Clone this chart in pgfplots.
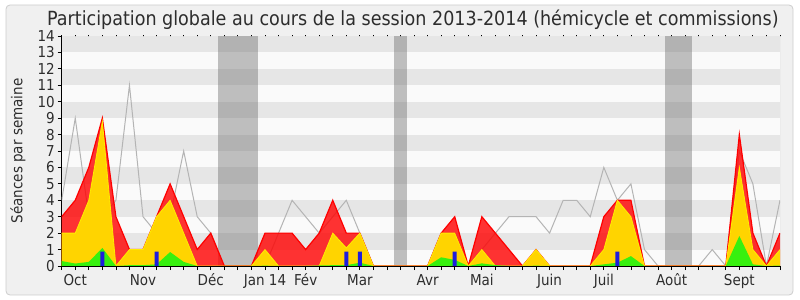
\documentclass[border=0pt]{standalone}
\usepackage{fontspec}
\setmainfont{DejaVu Sans Condensed}
\usepackage{pgfplots}
\pgfplotsset{compat=1.18}
\usepackage{pgfplotstable}

\definecolor{bgc}{RGB}{240,240,240}
\definecolor{framec}{RGB}{205,205,205}
\definecolor{stripeD}{RGB}{230,230,230}
\definecolor{stripeL}{RGB}{250,250,250}
\definecolor{holi}{RGB}{89,89,89}
\definecolor{yelA}{RGB}{255,212,0}
\definecolor{yelL}{RGB}{255,236,0}
\definecolor{greA}{RGB}{55,240,15}
\definecolor{bluA}{RGB}{30,30,220}
\definecolor{grayL}{RGB}{180,180,180}
\definecolor{txt}{RGB}{45,45,45}

\pgfplotstableread{
i red yel gre med
0 3 2 0.3 4
1 4 2 0.15 9
2 6 4 0.25 3
3 9 8.8 1.1 3
4 3 0 0 4
5 1 1 0.05 11
6 1 1 0.05 3
7 3 3 0.1 2
8 5 4 0.85 3
9 3 2 0.25 7
10 1 0 0 3
11 2 0 0 2
12 0 0 0 0
13 0 0 0 0
14 0 0 0 0
15 2 1 0.02 0
16 2 0 0 2
17 2 0 0 4
18 1 0 0 3
19 2 0 0.03 2
20 4 2 0.05 3
21 2 1.1 0.05 4
22 2 2 0.2 2
23 0 0 0 0
24 0 0 0 0
25 0 0 0 0
26 0 0 0 0
27 0 0 0 0
28 2 2 0.53 2
29 3 2 0.37 2
30 0 0 0 0
31 3 1 0.16 1
32 2 0 0.05 2
33 1 0 0 3
34 0 0 0 3
35 1 1 0.02 3
36 0 0 0 2
37 0 0 0 4
38 0 0 0 4
39 0 0 0 3
40 3 1 0.1 6
41 4 4 0.2 4
42 4 3 0.6 5
43 0 0 0 1
44 0 0 0 0
45 0 0 0 0
46 0 0 0 0
47 0 0 0 0
48 0 0 0 1
49 0 0 0 0
50 8 6 1.83 7
51 2 1 0.1 5
52 0 0 0 0
53 2 1 0.03 4
}\data

\pgfplotstableread{
i val
3 0.87
7 0.87
21 0.87
22 0.87
29 0.87
41 0.87
}\blue

\begin{document}
\begin{tikzpicture}
\useasboundingbox (0,0) rectangle (800bp,300bp);
\fill[white] (0,0) rectangle (800bp,300bp);
\draw[framec, fill=bgc, rounded corners=4bp, line width=0.8bp] (6bp,5bp) rectangle (793bp,295bp);
\begin{axis}[
  at={(61.7bp,34bp)}, anchor=south west,
  scale only axis, width=718.3bp, height=230bp,
  xmin=0, xmax=53, ymin=0, ymax=14,
  axis x line*=bottom, axis y line*=left,
  axis line style={black, line width=0.8bp, -},
  axis background/.style={fill=stripeL},
  ytick={0,...,14},
  xtick={0,...,53}, xticklabels={},
  extra x ticks={1,6,11,15,18,22,27,31,36,40,45,50},
  extra x tick labels={Oct,Nov,Déc,Jan 14,Fév,Mar,Avr,Mai,Juin,Juil,Août,Sept},
  extra x tick style={tick style={draw=none}},
  tick align=outside, major tick length=4bp,
  tick style={black, line width=0.8bp},
  /pgf/number format/assume math mode=true,
  tick label style={font=\fontsize{15bp}{18bp}\selectfont, text=txt},
  yticklabel style={anchor=east, inner sep=0pt, xshift=-2.7bp},
  xticklabel style={anchor=base, inner sep=0pt, yshift=-15bp},
  title={Participation globale au cours de la session 2013-2014 (hémicycle et commissions)},
  title style={at={(axis description cs:0.489,1.0187)}, anchor=base, yshift=0pt, inner sep=0pt, text=txt, font=\fontsize{19.5bp}{23bp}\selectfont},
  ylabel={Séances par semaine},
  ylabel style={at={(axis description cs:-0.061,0.5)}, anchor=center, rotate=0, inner sep=0pt, text=txt, font=\fontsize{15bp}{18bp}\selectfont},
]
% stripes
\addplot[fill=stripeD, draw=none] coordinates {(0,1) (53,1) (53,2) (0,2)} -- cycle;
\addplot[fill=stripeD, draw=none] coordinates {(0,3) (53,3) (53,4) (0,4)} -- cycle;
\addplot[fill=stripeD, draw=none] coordinates {(0,5) (53,5) (53,6) (0,6)} -- cycle;
\addplot[fill=stripeD, draw=none] coordinates {(0,7) (53,7) (53,8) (0,8)} -- cycle;
\addplot[fill=stripeD, draw=none] coordinates {(0,9) (53,9) (53,10) (0,10)} -- cycle;
\addplot[fill=stripeD, draw=none] coordinates {(0,11) (53,11) (53,12) (0,12)} -- cycle;
\addplot[fill=stripeD, draw=none] coordinates {(0,13) (53,13) (53,14) (0,14)} -- cycle;
% holidays
\addplot[fill=holi, fill opacity=0.37, draw=none] coordinates {(11.5,0) (11.5,14) (14.5,14) (14.5,0)} -- cycle;
\addplot[fill=holi, fill opacity=0.37, draw=none] coordinates {(24.5,0) (24.5,14) (25.5,14) (25.5,0)} -- cycle;
\addplot[fill=holi, fill opacity=0.37, draw=none] coordinates {(44.5,0) (44.5,14) (46.5,14) (46.5,0)} -- cycle;
% median line
\addplot[grayL, line width=1bp] table[x=i, y=med] {\data};
% total
\addplot[draw=none, fill=red, fill opacity=0.8] table[x=i, y=red] {\data} \closedcycle;
\addplot[red, line width=1.2bp] table[x=i, y=red] {\data};
% commission
\addplot[draw=none, fill=yelA] table[x=i, y=yel] {\data} \closedcycle;
\addplot[yelL, line width=0.8bp] table[x=i, y=yel] {\data};
% hemicycle
\addplot[draw=none, fill=greA] table[x=i, y=gre] {\data} \closedcycle;
% interventions
\addplot[ybar, bar width=4bp, fill=bluA, draw=none] table[x=i, y=val] {\blue};
\draw[framec, line width=0.8bp] (axis cs:53,0) -- (axis cs:53,14);
\end{axis}
\begin{axis}[
  at={(61.7bp,34bp)}, anchor=south west,
  scale only axis, width=718.3bp, height=230bp,
  xmin=0, xmax=53, ymin=0, ymax=14,
  axis x line*=top, hide y axis,
  axis line style={draw=none},
  xtick={0,...,53}, xticklabels={},
  tick align=outside, major tick length=3bp,
  tick style={black, line width=0.8bp, dash pattern=on 0bp off 2.2bp on 0.8bp},
]
\end{axis}
\end{tikzpicture}
\end{document}
